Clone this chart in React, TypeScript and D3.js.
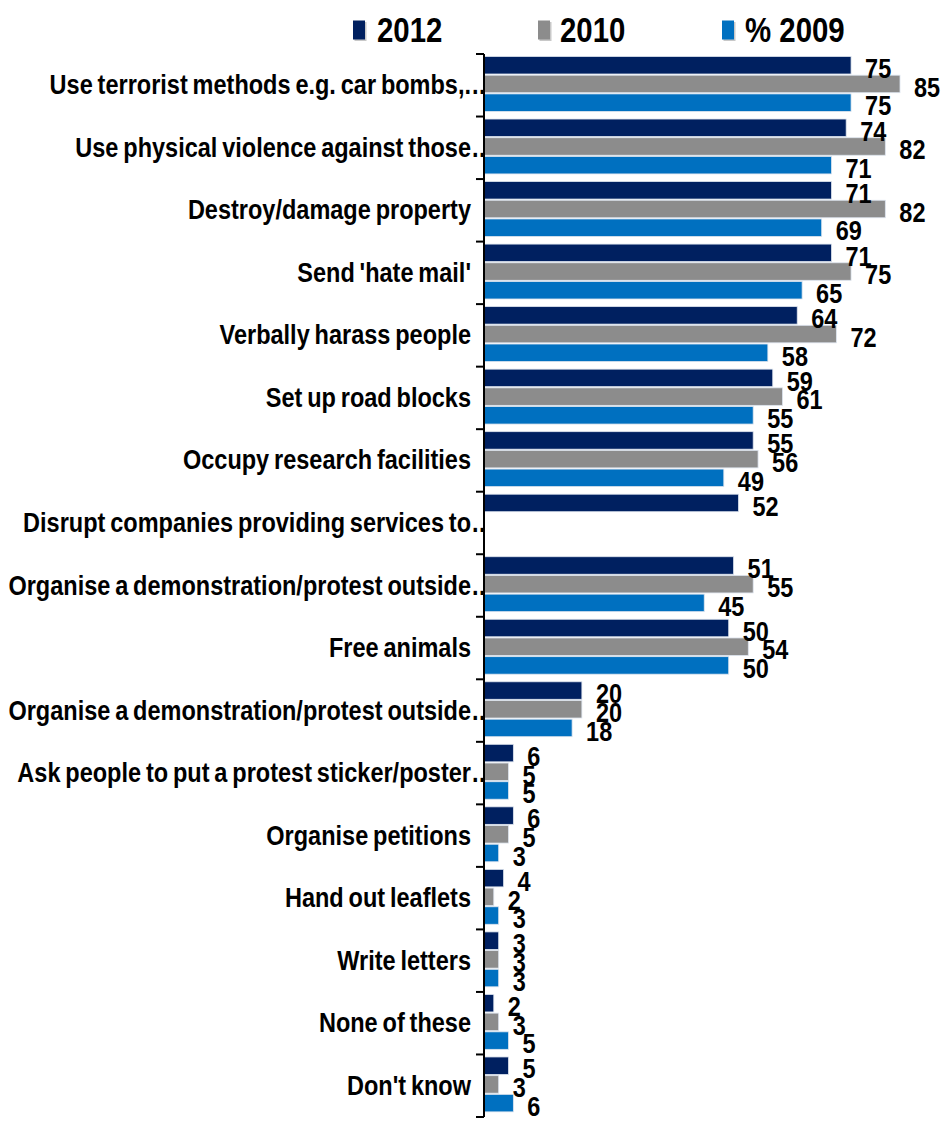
import React from "react";
import * as d3 from "d3";

const categories = [
  "Use terrorist methods e.g. car bombs,.",
  "Use physical violence against those",
  "Destroy/damage property",
  "Send 'hate mail'",
  "Verbally harass people",
  "Set up road blocks",
  "Occupy research facilities",
  "Disrupt companies providing services to",
  "Organise a demonstration/protest outside",
  "Free animals",
  "Organise a demonstration/protest outside",
  "Ask people to put a protest sticker/poster",
  "Organise petitions",
  "Hand out leaflets",
  "Write letters",
  "None of these",
  "Don't know",
];
const truncated = [true, true, false, false, false, false, false, true, true, false, true, true, false, false, false, false, false];

const values2012: (number | null)[] = [75, 74, 71, 71, 64, 59, 55, 52, 51, 50, 20, 6, 6, 4, 3, 2, 5];
const values2010: (number | null)[] = [85, 82, 82, 75, 72, 61, 56, null, 55, 54, 20, 5, 5, 2, 3, 3, 3];
const values2009: (number | null)[] = [75, 71, 69, 65, 58, 55, 49, null, 45, 50, 18, 5, 3, 3, 3, 5, 6];

const seriesNames = ["2012", "2010", "% 2009"];
const seriesColors = ["#002060", "#8c8c8c", "#0070c0"];
const seriesValues = [values2012, values2010, values2009];

const FONT = "'Liberation Sans', Arial, sans-serif";
const SX = 0.84;

function NText(props: {
  x: number;
  y: number;
  size: number;
  anchor?: "start" | "end";
  children: React.ReactNode;
  central?: boolean;
  wordSpacing?: number;
  letterSpacing?: number;
}) {
  return (
    <text
      transform={`translate(${props.x},${props.y}) scale(${SX},1)`}
      textAnchor={props.anchor || "start"}
      dominantBaseline={props.central ? "central" : undefined}
      fontSize={props.size}
      fontWeight="bold"
      fill="#000"
      wordSpacing={props.wordSpacing}
      letterSpacing={props.letterSpacing}
    >
      {props.children}
    </text>
  );
}

export default function App() {
  const W = 943;
  const H = 1124;
  const axisX = 484;
  const top = 54;
  const bottom = 1117;

  const y = d3.scaleBand<number>().domain(d3.range(categories.length)).range([top, bottom]);
  const x = d3.scaleLinear().domain([0, 85]).range([axisX, 900]);
  const bw = y.bandwidth();
  const barH = 17.5;
  const gap = 1.2;
  const off = 2.5;

  const legendItems = [
    { sx: 353, tx: 377 },
    { sx: 538, tx: 560 },
    { sx: 722, tx: 745 },
  ];

  return (
    <div style={{ position: "absolute", left: 0, top: 0 }}>
      <svg width={W} height={H} style={{ display: "block", background: "#fff" }} fontFamily={FONT}>
        {/* legend */}
        {legendItems.map((l, i) => (
          <g key={i}>
            <rect x={l.sx + 1.5} y={22} width={12} height={19} fill="#c8c8c8" />
            <rect x={l.sx} y={20.5} width={12} height={19} fill={seriesColors[i]} />
            <NText x={l.tx} y={42} size={35}>
              {seriesNames[i]}
            </NText>
          </g>
        ))}

        {/* bars */}
        {seriesValues.map((vals, s) =>
          vals.map((v, i) =>
            v == null ? null : (
              <rect
                key={`b${s}-${i}`}
                x={x(0)}
                y={(y(i) as number) + off + s * (barH + gap)}
                width={x(v) - x(0)}
                height={barH}
                fill={seriesColors[s]}
                stroke="#dde4ee"
                strokeWidth={0.8}
              />
            )
          )
        )}

        {/* value labels */}
        {seriesValues.map((vals, s) =>
          vals.map((v, i) =>
            v == null ? null : (
              <NText
                key={`v${s}-${i}`}
                x={x(v) + 14}
                y={(y(i) as number) + off + s * (barH + gap) + barH / 2 + 3}
                size={28}
                central
              >
                {v}
              </NText>
            )
          )
        )}

        {/* axis */}
        <line x1={axisX} x2={axisX} y1={top} y2={bottom} stroke="#000" strokeWidth={2} />
        {d3.range(categories.length + 1).map((k) => {
          const ty = top + k * bw;
          return <line key={`t${k}`} x1={axisX - 8} x2={axisX} y1={ty} y2={ty} stroke="#000" strokeWidth={2} />;
        })}

        {/* category labels */}
        {categories.map((c, i) => {
          const cy = (y(i) as number) + bw / 2 + 9;
          return (
            <g key={`c${i}`}>
              <NText x={471} y={cy} size={28} anchor="end" wordSpacing={-2}>
                {c}
              </NText>
              {truncated[i] ? (
                <NText x={472} y={cy} size={28} letterSpacing={0.5}>
                  ..
                </NText>
              ) : null}
            </g>
          );
        })}
      </svg>
    </div>
  );
}
